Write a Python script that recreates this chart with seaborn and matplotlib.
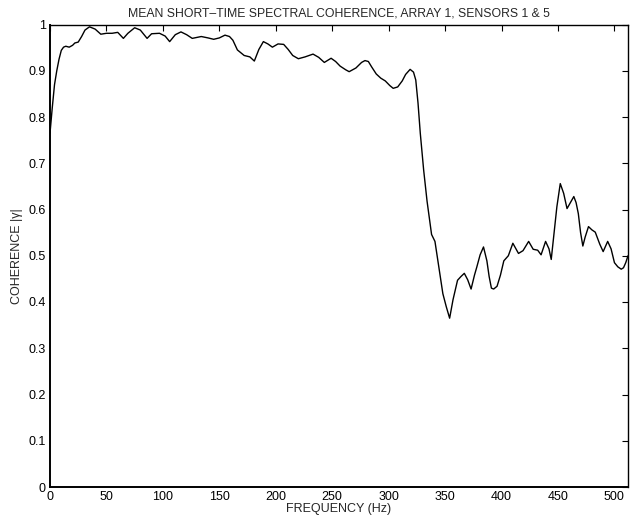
import matplotlib
matplotlib.use("Agg")
import matplotlib.pyplot as plt
import seaborn as sns
import pandas as pd

frequency_hz = [0, 2, 4, 6, 8, 10, 12, 14, 17, 20, 22, 25, 28, 31, 35, 40, 45, 50, 55, 60,
                65, 69, 75, 80, 86, 90, 97, 102, 106, 111, 116, 121, 126, 134, 140, 145, 150,
                155, 159, 162, 166, 172, 177, 181, 185, 189, 193, 197, 202, 207, 211, 215,
                220, 226, 233, 238, 243, 249, 253, 257, 262, 265, 271, 276, 279, 282, 285,
                289, 293, 297, 301, 304, 308, 312, 315, 319, 322, 324, 326, 328, 331, 334,
                338, 341, 344, 348, 351, 354, 357, 361, 364, 367, 370, 373, 376, 378, 381,
                384, 387, 389, 391, 393, 396, 399, 402, 406, 410, 412, 415, 419, 424, 428,
                432, 435, 439, 442, 444, 447, 449, 452, 455, 458, 461, 464, 466, 468, 470,
                472, 474, 477, 480, 483, 487, 490, 494, 497, 500, 503, 506, 508, 510, 512]
coherence = [0.765, 0.82, 0.87, 0.90, 0.925, 0.944, 0.951, 0.953, 0.951, 0.955, 0.960, 0.962,
             0.974, 0.988, 0.995, 0.990, 0.979, 0.981, 0.981, 0.983, 0.970, 0.981, 0.993,
             0.988, 0.970, 0.980, 0.981, 0.975, 0.963, 0.978, 0.984, 0.978, 0.970, 0.974,
             0.971, 0.968, 0.971, 0.977, 0.974, 0.966, 0.945, 0.933, 0.930, 0.921, 0.946,
             0.963, 0.958, 0.951, 0.958, 0.957, 0.946, 0.933, 0.926, 0.930, 0.936, 0.929,
             0.918, 0.927, 0.920, 0.910, 0.902, 0.898, 0.906, 0.918, 0.922, 0.920, 0.908,
             0.893, 0.884, 0.878, 0.868, 0.862, 0.865, 0.878, 0.892, 0.903, 0.897, 0.880,
             0.830, 0.765, 0.685, 0.618, 0.546, 0.531, 0.482, 0.418, 0.390, 0.365, 0.405,
             0.447, 0.455, 0.462, 0.448, 0.428, 0.458, 0.475, 0.502, 0.519, 0.489, 0.455,
             0.430, 0.428, 0.434, 0.458, 0.489, 0.500, 0.527, 0.518, 0.505, 0.511, 0.531,
             0.514, 0.512, 0.502, 0.531, 0.515, 0.492, 0.560, 0.606, 0.656, 0.635, 0.602,
             0.615, 0.628, 0.615, 0.591, 0.550, 0.521, 0.540, 0.563, 0.556, 0.551, 0.525,
             0.509, 0.531, 0.515, 0.485, 0.476, 0.471, 0.474, 0.485, 0.500]

x_ticks = [0, 50, 100, 150, 200, 250, 300, 350, 400, 450, 500]
y_ticks = [0, 0.1, 0.2, 0.3, 0.4, 0.5, 0.6, 0.7, 0.8, 0.9, 1.0]
y_tick_labels = ["0", "0.1", "0.2", "0.3", "0.4", "0.5", "0.6", "0.7", "0.8", "0.9", "1"]

title = "MEAN SHORT\u2013TIME SPECTRAL COHERENCE, ARRAY 1, SENSORS 1 & 5"
x_label = "FREQUENCY (Hz)"
y_label = "COHERENCE |\u03b3|"

sns.set_style("white")
plt.rcParams["font.family"] = ["Liberation Sans", "DejaVu Sans"]
plt.rcParams["font.size"] = 9

df = pd.DataFrame({"freq": frequency_hz, "coh": coherence})

top_px, bottom_px, left_px, right_px = 24.5, 487.0, 50.0, 628.0
fig = plt.figure(figsize=(6.42, 5.2), dpi=100)
ax = fig.add_axes([left_px / 642, 1 - bottom_px / 520,
                   (right_px - left_px) / 642, (bottom_px - top_px) / 520])

sns.lineplot(data=df, x="freq", y="coh", ax=ax, color="black", linewidth=1.0,
             estimator=None, sort=False)

ax.set_xlim(0, 512)
ax.set_ylim(0, 1)
ax.set_xticks(x_ticks)
ax.set_xticklabels([str(t) for t in x_ticks])
ax.set_yticks(y_ticks)
ax.set_yticklabels(y_tick_labels)
ax.tick_params(direction="in", length=4, width=0.8, top=True, right=True,
               labelsize=9, colors="black", pad=3)
for side, sp in ax.spines.items():
    sp.set_visible(True)
    sp.set_color("black")
    sp.set_linewidth(1.4 if side in ("left", "bottom") else 1.0)

ax.set_title(title, fontsize=8.8, pad=6)
ax.set_xlabel(x_label, fontsize=9, labelpad=0)
ax.set_ylabel(y_label, fontsize=9, labelpad=4)

fig.savefig("out.png", dpi=100)
